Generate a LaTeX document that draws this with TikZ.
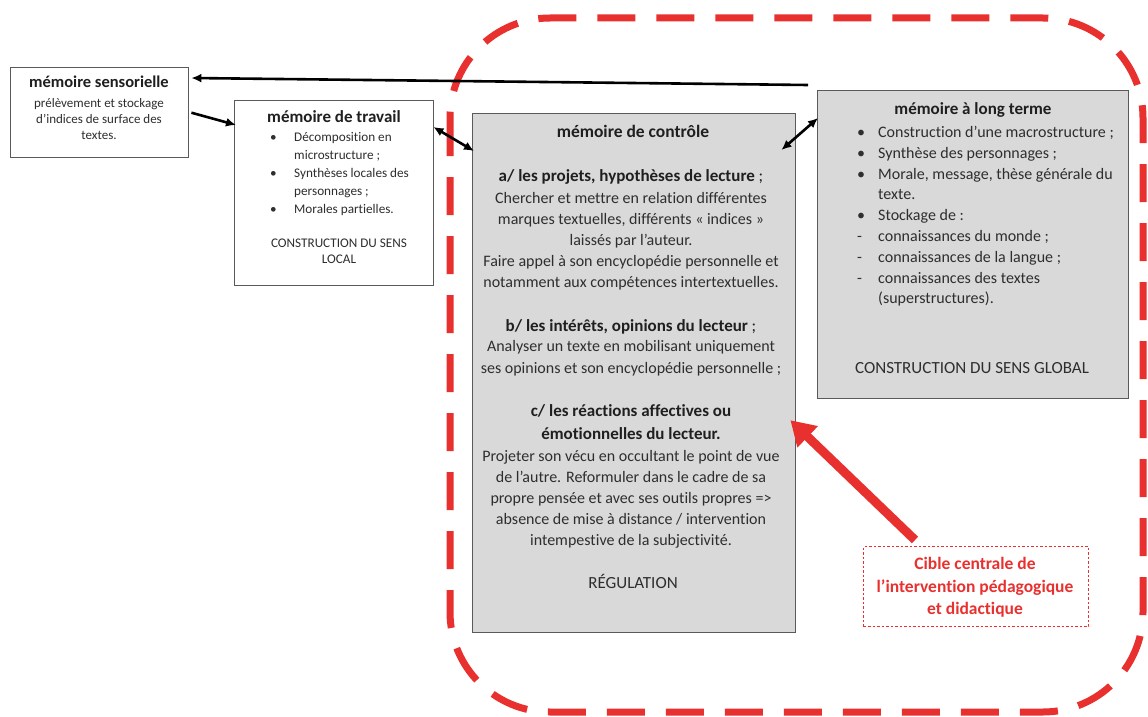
\documentclass[tikz,border=0pt]{standalone}
\usepackage{fontspec}
\setmainfont{Carlito}[Ligatures=NoCommon]
\usetikzlibrary{arrows.meta,calc}
\definecolor{txt}{HTML}{2E2E2E}
\definecolor{redd}{HTML}{E8312F}
\definecolor{boxgray}{HTML}{D9D9D9}
\definecolor{edge}{HTML}{5A5A5A}
\newcommand{\fs}[2]{\fontsize{#1}{#2}\selectfont}
\newcommand{\bl}[1]{\makebox[21pt][l]{\textbullet}#1}
\newcommand{\dl}[1]{\makebox[21pt][l]{-}#1}
\newcommand{\ct}[1]{\makebox[21pt][l]{}#1}
\newcommand{\blt}[1]{\makebox[24pt][l]{\textbullet}#1}
\newcommand{\ctt}[1]{\makebox[24pt][l]{}#1}
\tikzset{
  wbox/.style={draw=edge, line width=1.4pt, fill=white, anchor=north west, inner sep=0pt},
  gbox/.style={draw=edge, line width=1.4pt, fill=boxgray, anchor=north west, inner sep=0pt},
  tx/.style={inner sep=0pt, text=txt, align=center},
  ttl/.style={inner sep=0pt, text=black!88, font=\bfseries},
  conn/.style={line width=2.6pt, -{Latex[length=10pt,width=9pt]}},
  conn2/.style={line width=2.6pt, {Latex[length=10pt,width=9pt]}-{Latex[length=10pt,width=9pt]}},
}
\begin{document}
\begin{tikzpicture}[x=1pt,y=-1pt]
\useasboundingbox (0,0) rectangle (1148,717);
% red dashed zone
\draw[redd, line width=7pt, dash pattern=on 38pt off 21pt, rounded corners=100pt]
  (450,18) rectangle (1143,712);
% boxes
\node[wbox, minimum width=178pt, minimum height=90pt] (sens) at (10,67) {};
\node[wbox, minimum width=199pt, minimum height=185pt] (trav) at (234,100) {};
\node[gbox, minimum width=323pt, minimum height=519pt] (ctrl) at (472,113) {};
\node[gbox, minimum width=311pt, minimum height=308pt] (lt) at (817,90) {};
\node[draw=redd, line width=1.3pt, dash pattern=on 2.5pt off 2pt, anchor=north west, minimum width=225pt, minimum height=80pt, inner sep=0pt] (cible) at (863,546) {};

% sensorielle text
\node[ttl, font=\bfseries\fs{16.5}{16}, anchor=north] at (99,76) {mémoire sensorielle};
\node[tx, font=\fs{13}{16}, anchor=north] at (99,98.5) {prélèvement et stockage\\d’indices de surface des\\textes.};

% travail text
\node[ttl, font=\bfseries\fs{17}{16}, anchor=north] at (334,110.5) {mémoire de travail};
\node[tx, font=\fs{13.2}{18}, align=left, anchor=north west] at (270,132)
  {\blt{Décomposition en}\\\ctt{microstructure ;}\\\blt{Synthèses locales des}\\\ctt{personnages ;}\\\blt{Morales partielles.}};
\node[tx, font=\fs{13.2}{16}, anchor=north] at (339,239) {CONSTRUCTION DU SENS\\LOCAL};

% controle text
\node[ttl, font=\bfseries\fs{17.5}{16}, anchor=north] at (633,125) {mémoire de contrôle};
\node[ttl, font=\bfseries\fs{17}{21}, anchor=north] at (631,169.5) {a/ les projets, hypothèses de lecture \mdseries;};
\node[tx, font=\fs{16}{21}, anchor=north] at (631,192) {Chercher et mettre en relation différentes\\marques textuelles, différents « indices »\\laissés par l’auteur.\\Faire appel à son encyclopédie personnelle et\\notamment aux compétences intertextuelles.};
\node[ttl, font=\bfseries\fs{17}{21}, anchor=north] at (631,319.5) {b/ les intérêts, opinions du lecteur \mdseries;};
\node[tx, font=\fs{16}{21.8}, anchor=north] at (631,340.5) {Analyser un texte en mobilisant uniquement\\ses opinions et son encyclopédie personnelle ;};
\node[ttl, font=\bfseries\fs{17}{22.5}, anchor=north, align=center] at (631,404.5) {c/ les réactions affectives ou\\émotionnelles du lecteur.};
\node[tx, font=\fs{16}{20.8}, anchor=north] at (631,450.5) {Projeter son vécu en occultant le point de vue\\de l’autre. Reformuler dans le cadre de sa\\propre pensée et avec ses outils propres =>\\absence de mise à distance / intervention\\intempestive de la subjectivité.};
\node[tx, font=\fs{17}{16}, anchor=north] at (633,574) {RÉGULATION};

% long terme text
\node[ttl, font=\bfseries\fs{17}{16}, anchor=north] at (973,102) {mémoire à long terme};
\node[tx, font=\fs{16}{20.8}, align=left, anchor=north west] at (857,126)
  {\bl{Construction d’une macrostructure ;}\\\bl{Synthèse des personnages ;}\\\bl{Morale, message, thèse générale du}\\\ct{texte.}\\\bl{Stockage de :}\\\dl{connaissances du monde ;}\\\dl{connaissances de la langue ;}\\\dl{connaissances des textes}\\\ct{(superstructures).}};
\node[tx, font=\fs{17}{16}, anchor=north] at (972,362) {CONSTRUCTION DU SENS GLOBAL};

% cible text
\node[inner sep=0pt, text=redd, font=\bfseries\fs{17.5}{22.5}, align=center, anchor=north] at (975,557.5) {Cible centrale de\\l’intervention pédagogique\\et didactique};

% connectors
\draw[conn] ($(lt.north west)+(-9,-5)$) -- ($(sens.north east)+(2,11)$);
\draw[conn] ($(sens.east)+(2,0)$) -- ($(trav.north west)+(2,25)$);
\draw[conn2] ($(trav.north east)+(-1,27)$) -- ($(ctrl.north west)+(2,38)$);
\draw[conn2] ($(ctrl.north east)+(-15,37)$) -- ($(lt.north west)+(1,28)$);
\coordinate (tip) at ($(ctrl.east)+(-6,47)$);
\draw[redd, line width=9pt, -{Triangle[length=24pt,width=28pt]}] ($(cible.north west)+(52,-6)$) -- (tip);
\end{tikzpicture}
\end{document}
